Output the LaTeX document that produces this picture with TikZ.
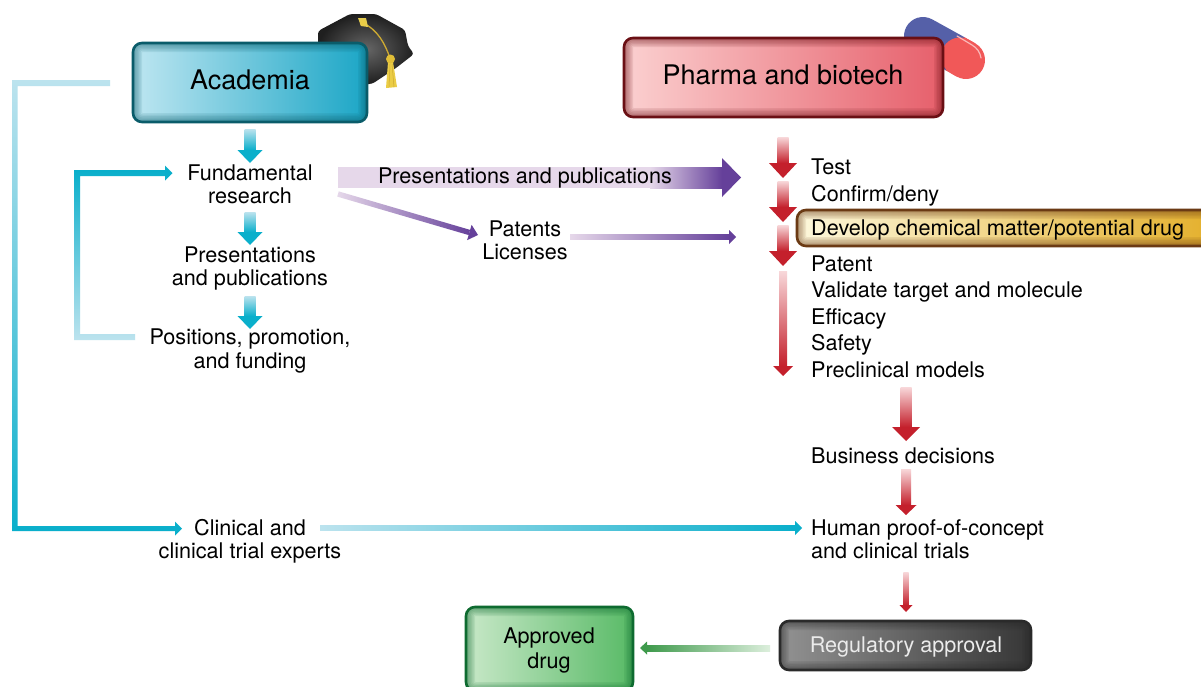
\documentclass[tikz,border=0pt]{standalone}
\usepackage{fontspec}
\setmainfont{TeX Gyre Heros}
\usetikzlibrary{calc}
\definecolor{bluesat}{HTML}{0AAFCB}
\definecolor{bluepale}{HTML}{BCE3EE}
\definecolor{redsat}{HTML}{C4202C}
\definecolor{redpale}{HTML}{F8D8DA}
\definecolor{purplesat}{HTML}{65409A}
\definecolor{purplepale}{HTML}{E6D8EA}
\definecolor{greensat}{HTML}{3F9A4C}
\definecolor{greenpale}{HTML}{DDEFDD}
\definecolor{acadL}{HTML}{BEE6F1}\definecolor{acadR}{HTML}{1BA6C6}\definecolor{acadB}{HTML}{0A5C6A}
\definecolor{phL}{HTML}{FBD0D0}\definecolor{phR}{HTML}{E65F6B}\definecolor{phB}{HTML}{6A0F14}
\definecolor{goL}{HTML}{FDF8DC}\definecolor{goR}{HTML}{E3AE28}\definecolor{goB}{HTML}{6B3A14}
\definecolor{grL}{HTML}{C8E8C8}\definecolor{grR}{HTML}{58BA66}\definecolor{grB}{HTML}{0E6B30}
\definecolor{reL}{HTML}{929292}\definecolor{reR}{HTML}{363636}\definecolor{reB}{HTML}{2A2A2A}
\definecolor{tassA}{HTML}{CDAA32}\definecolor{tassB}{HTML}{E6CD50}\definecolor{tassC}{HTML}{EBCD46}\definecolor{tassD}{HTML}{E1BE37}
\definecolor{pillB}{HTML}{5560A8}\definecolor{pillR}{HTML}{F15858}\definecolor{pillH}{HTML}{FAB9B9}
\tikzset{
  gv/.style 2 args={top color=#1,bottom color=#2},
  gh/.style 2 args={left color=#1,right color=#2},
  gl/.style 2 args={right color=#1,left color=#2},
  lbl/.style={inner sep=0pt,font=\fontsize{21.6}{23.2}\selectfont,align=center,text=black},
  llbl/.style={lbl,anchor=base west},
  bigtext/.style={lbl,font=\fontsize{27}{30}\selectfont},
  glowbox/.style args={#1/#2/#3}{rounded corners=9pt,draw=#3,line width=2.6pt,left color=#1,right color=#2,inner sep=0pt,
    path picture={\foreach \w in {3,6,9,12,15,18}{\draw[#3,opacity=.1,line width=\w pt,rounded corners=9pt]
      (path picture bounding box.south west) rectangle (path picture bounding box.north east);}}},
}
\newcommand\garrow[8]{% style,a,b,shaft half,head half,head length,pale,end
  \coordinate (tmpb) at ($(#3)!#6pt!(#2)$);
  \shade[#1={#7}{#8}] ($(#2)!#4pt!90:(#3)$) -- ($(tmpb)!#4pt!90:(#3)$) -- ($(tmpb)!#4pt!-90:(#3)$) -- ($(#2)!#4pt!-90:(#3)$) -- cycle;
  \fill[#8] ($(tmpb)!#5pt!90:(#3)$) -- (#3) -- ($(tmpb)!#5pt!-90:(#3)$) -- cycle;
}
\begin{document}
\begin{tikzpicture}[x=1pt,y=-1pt]
\useasboundingbox (0,0) rectangle (1201,686);
\fill[white] (0,0) rectangle (1201,686);
% graduation cap
\shade[inner color=black!60,outer color=black!88,draw=none,rounded corners=3pt]
  (318,31) -- (350,14) -- (376,14) -- (405,30) -- (408,46) -- (414,54) -- (396,68) -- (372,84) -- (340,84) -- (318,60) -- cycle;
\draw[tassA,line width=1.3pt] (363,23) .. controls (378,30) and (385,44) .. (390,58);
\fill[tassB] (358,18) -- (366,18) -- (368,27) -- (361,26) -- cycle;
\fill[tassC] (363,23) circle (3.2);
\fill[tassC] (388,62) -- (393,62) -- (397,87) -- (386,88) -- cycle;
\draw[tassA,line width=.5pt] (390,64) -- (389,87) (392,64) -- (394,87);
\fill[tassD] (390.5,59) circle (4.5);
% pill
\coordinate (pillb) at (923,36);
\coordinate (pillm) at (955,53.7);
\coordinate (pillm2) at (960,56.5);
\coordinate (pillr) at (966,60);
\draw[pillB,line width=38pt,line cap=round] (pillb) -- (pillm);
\draw[pillR,line width=38pt,line cap=butt] (pillm) -- (pillr);
\draw[pillR,line width=38pt,line cap=round] (pillm2) -- (pillr);
\draw[pillH,line width=1.2pt,line cap=round] (957,36) -- (972,45) .. controls (977,48) and (980,52) .. (981,58);
% boxes
\node[glowbox=acadL/acadR/acadB,minimum width=234pt,minimum height=79pt] (acad) at (250,82.5) {};
\node[bigtext] (acadt) at (250,80) {Academia};
\node[glowbox=phL/phR/phB,minimum width=319pt,minimum height=79pt] (pharma) at (783.5,77.5) {};
\node[bigtext] (pharmat) at (783,74.5) {Pharma and biotech};
\node[glowbox=goL/goR/goB,minimum width=426pt,minimum height=36pt] (gold) at (1010,228) {};
\node[glowbox=grL/grR/grB,minimum width=167pt,minimum height=84pt] (appr) at (549.5,649) {};
\node[lbl] (apprt) at (549,650.5) {Approved\\[2.5pt]drug};
\node[glowbox=reL/reR/reB,minimum width=251pt,minimum height=49pt] (reg) at (905.5,645.5) {};
\node[lbl,text=white!92!black] (regt) at (906,647) {Regulatory approval};
% left column labels
\node[lbl] (fund) at (250,184.5) {Fundamental\\research};
\node[lbl] (pres) at (250,268.5) {Presentations\\and publications};
\node[lbl] (pos) at (250,351) {Positions, promotion,\\and funding};
\node[lbl] (clin) at (250,541) {Clinical and\\clinical trial experts};
\node[lbl] (pat) at (525,240.5) {Patents\\Licenses};
% right column labels
\node[llbl] (test) at (811,174) {Test};
\node[llbl] (conf) at (811,201) {Confirm/deny};
\node[llbl] (dev) at (811,235) {Develop chemical matter/potential drug};
\node[llbl] (patn) at (811,271) {Patent};
\node[llbl] (vali) at (811,297) {Validate target and molecule};
\node[llbl] (effi) at (811,324) {Efficacy};
\node[llbl] (safe) at (811,350) {Safety};
\node[llbl] (prec) at (811,377) {Preclinical models};
\node[llbl] (busi) at (811,463) {Business decisions};
\node[llbl] (huma) at (811,535) {Human proof-of-concept};
\node[llbl] (humb) at (811,558) {and clinical trials};
% blue arrows
\coordinate (b1s) at (250,129); \coordinate (b1e) at (250,163);
\coordinate (b2s) at (250,212); \coordinate (b2e) at (250,245);
\coordinate (b3s) at (250,296); \coordinate (b3e) at (250,329);
\garrow{gv}{b1s}{b1e}{5.5}{12.5}{13}{bluepale}{bluesat}
\garrow{gv}{b2s}{b2e}{5.5}{12.5}{13}{bluepale}{bluesat}
\garrow{gv}{b3s}{b3e}{5.5}{12.5}{13}{bluepale}{bluesat}
% feedback loops
\shade[top color=bluesat,bottom color=bluepale] (165,170) -- (74,170) -- (74,340) -- (135,340) -- (135,334) -- (80,334) -- (80,176) -- (165,176) -- cycle;
\fill[bluesat] (165,165.5) -- (172.5,173) -- (165,180.5) -- cycle;
\shade[top color=bluepale,bottom color=bluesat] (110,80) -- (12,80) -- (12,531) -- (175,531) -- (175,526) -- (17.5,526) -- (17.5,86) -- (110,86) -- cycle;
\fill[bluesat] (175,521.5) -- (182,528.5) -- (175,535.5) -- cycle;
\coordinate (cs) at (320,528); \coordinate (ce) at (802,528);
\garrow{gh}{cs}{ce}{2.7}{7}{7}{bluepale}{bluesat}
% purple arrows
\fill[purplepale] (338,167) rectangle (650,188);
\coordinate (p1s) at (650,177.5); \coordinate (p1e) at (741,177.5);
\garrow{gh}{p1s}{p1e}{10.5}{19.5}{19}{purplepale}{purplesat}
\coordinate (p2s) at (338,194); \coordinate (p2e) at (478,235);
\garrow{gh}{p2s}{p2e}{2.7}{8}{9}{purplepale}{purplesat}
\coordinate (p3s) at (570,237); \coordinate (p3e) at (736,237);
\garrow{gh}{p3s}{p3e}{2.7}{7}{7}{purplepale}{purplesat}
\node[lbl] (prest) at (525,177.5) {Presentations and publications};
% red arrows
\coordinate (r1s) at (783,137); \coordinate (r1e) at (783,178);
\coordinate (r2s) at (783,181); \coordinate (r2e) at (783,222);
\coordinate (r3s) at (783,225); \coordinate (r3e) at (783,266);
\coordinate (r4s) at (783,271); \coordinate (r4e) at (783,376);
\coordinate (r5s) at (906,387); \coordinate (r5e) at (906,441);
\coordinate (r6s) at (906,469); \coordinate (r6e) at (906,515);
\coordinate (r7s) at (906,572); \coordinate (r7e) at (906,612);
\garrow{gv}{r1s}{r1e}{5.5}{14}{15}{redpale}{redsat}
\garrow{gv}{r2s}{r2e}{5.5}{14}{15}{redpale}{redsat}
\garrow{gv}{r3s}{r3e}{5.5}{14}{15}{redpale}{redsat}
\garrow{gv}{r4s}{r4e}{4}{10}{10}{redpale}{redsat}
\garrow{gv}{r5s}{r5e}{5.5}{14}{14}{redpale}{redsat}
\garrow{gv}{r6s}{r6e}{5}{10.5}{10}{redpale}{redsat}
\garrow{gv}{r7s}{r7e}{2.7}{6.5}{7}{redpale}{redsat}
% green arrow
\coordinate (gs) at (770,648); \coordinate (ge) at (640,648);
\garrow{gl}{gs}{ge}{3}{6.5}{7}{greenpale}{greensat}
\end{tikzpicture}
\end{document}
